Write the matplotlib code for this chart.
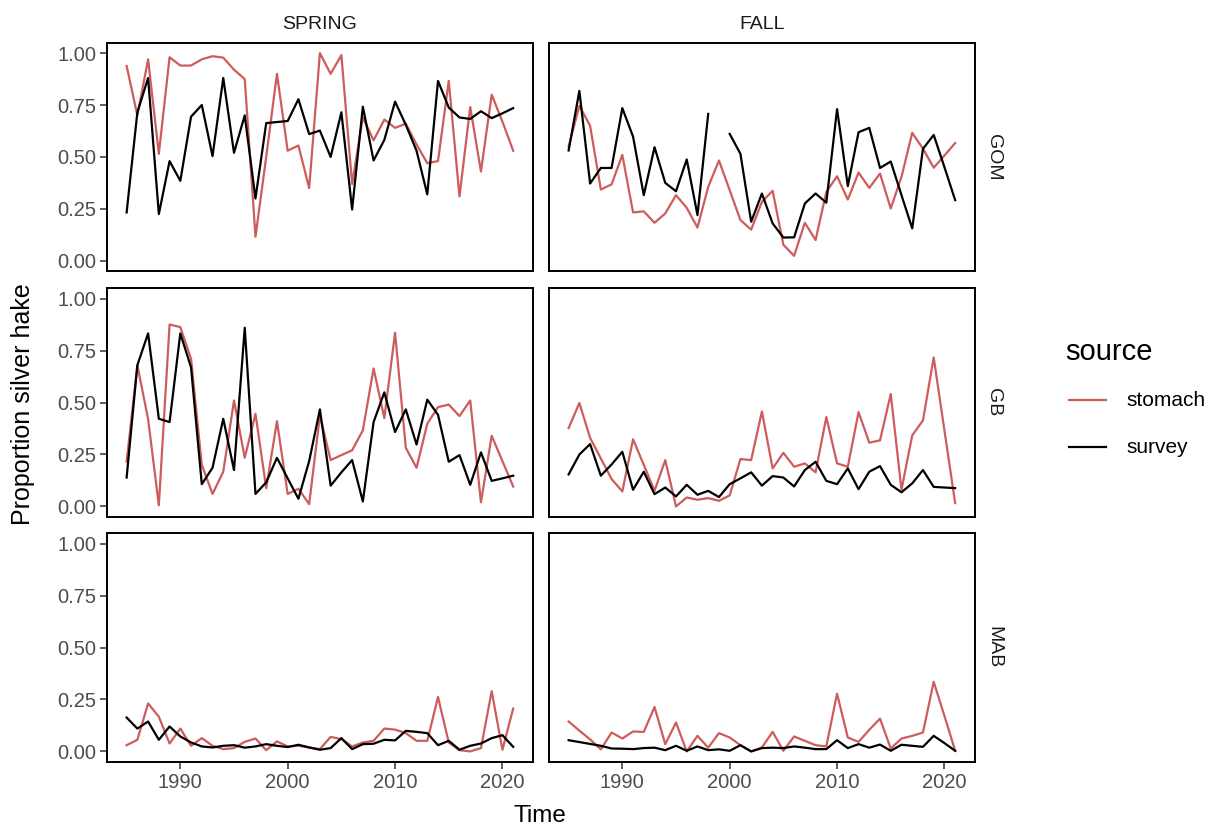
import matplotlib
matplotlib.use("Agg")
import matplotlib.pyplot as plt
import numpy as np
from matplotlib.lines import Line2D

plt.rcParams['font.family'] = ['Liberation Sans', 'DejaVu Sans']

years = np.arange(1985, 2022)
seasons = ["SPRING", "FALL"]
regions = ["GOM", "GB", "MAB"]
sources = ["stomach", "survey"]

# stomach / survey proportions by region and season
spring_gom_stomach = [0.938, 0.70, 0.97, 0.515, 0.98, 0.94, 0.94, 0.97, 0.985, 0.978, 0.92, 0.875, 0.116,
                      0.50, 0.90, 0.53, 0.555, 0.35, 1.00, 0.90, 0.99, 0.37, 0.69, 0.58, 0.68, 0.64, 0.66,
                      0.56, 0.47, 0.48, 0.866, 0.31, 0.74, 0.43, 0.80, 0.67, 0.53]
spring_gom_survey = [0.233, 0.715, 0.88, 0.225, 0.48, 0.385, 0.694, 0.75, 0.504, 0.88, 0.52, 0.70, 0.30,
                     0.663, 0.668, 0.673, 0.778, 0.61, 0.627, 0.50, 0.715, 0.247, 0.742, 0.483, 0.582,
                     0.766, 0.655, 0.53, 0.32, 0.866, 0.738, 0.69, 0.683, 0.72, 0.687, 0.71, 0.735]
fall_gom_stomach = [0.55, 0.746, 0.65, 0.343, 0.368, 0.51, 0.233, 0.238, 0.183, 0.228, 0.316, 0.255, 0.16,
                    0.356, 0.483, 0.34, 0.196, 0.15, 0.284, 0.337, 0.077, 0.024, 0.183, 0.10, 0.332, 0.407,
                    0.295, 0.425, 0.351, 0.42, 0.252, 0.404, 0.616, 0.54, 0.448, 0.507, 0.567]
fall_gom_survey = [0.531, 0.818, 0.372, 0.447, 0.447, 0.735, 0.598, 0.316, 0.547, 0.375, 0.335, 0.488, 0.22,
                   0.707, np.nan, 0.611, 0.515, 0.188, 0.324, 0.18, 0.112, 0.113, 0.276, 0.324, 0.28, 0.73,
                   0.36, 0.619, 0.64, 0.447, 0.478, 0.316, 0.156, 0.539, 0.606, 0.451, 0.292]
spring_gb_stomach = [0.215, 0.68, 0.42, 0.005, 0.876, 0.863, 0.71, 0.20, 0.06, 0.167, 0.51, 0.234, 0.446,
                     0.088, 0.41, 0.06, 0.085, 0.011, 0.438, 0.223, 0.247, 0.27, 0.366, 0.664, 0.425, 0.836,
                     0.282, 0.186, 0.398, 0.478, 0.49, 0.435, 0.51, 0.02, 0.34, 0.218, 0.096]
spring_gb_survey = [0.139, 0.68, 0.833, 0.422, 0.406, 0.833, 0.669, 0.107, 0.186, 0.422, 0.175, 0.86, 0.06,
                    0.116, 0.234, 0.135, 0.037, 0.218, 0.467, 0.10, 0.164, 0.223, 0.024, 0.406, 0.549, 0.358,
                    0.467, 0.298, 0.514, 0.441, 0.215, 0.247, 0.104, 0.26, 0.123, 0.135, 0.148]
fall_gb_stomach = [0.377, 0.498, 0.33, 0.231, 0.132, 0.072, 0.323, 0.20, 0.075, 0.223, 0.0, 0.043, 0.032,
                   0.04, 0.027, 0.053, 0.228, 0.223, 0.457, 0.183, 0.258, 0.191, 0.207, 0.164, 0.43, 0.207,
                   0.191, 0.454, 0.307, 0.318, 0.541, 0.08, 0.342, 0.414, 0.717, 0.366, 0.016]
fall_gb_survey = [0.154, 0.25, 0.30, 0.148, 0.202, 0.263, 0.08, 0.167, 0.059, 0.091, 0.048, 0.104, 0.056,
                  0.075, 0.045, 0.107, 0.135, 0.164, 0.10, 0.146, 0.139, 0.096, 0.175, 0.215, 0.123, 0.107,
                  0.183, 0.083, 0.167, 0.194, 0.104, 0.068, 0.111, 0.175, 0.094, 0.091, 0.088]
spring_mab_stomach = [0.03, 0.056, 0.231, 0.167, 0.038, 0.11, 0.027, 0.064, 0.027, 0.011, 0.016, 0.046, 0.062,
                      0.006, 0.048, 0.024, 0.027, 0.019, 0.011, 0.07, 0.059, 0.024, 0.043, 0.051, 0.11, 0.105,
                      0.088, 0.051, 0.051, 0.262, 0.043, 0.006, 0.0, 0.016, 0.29, 0.008, 0.206]
spring_mab_survey = [0.163, 0.11, 0.144, 0.056, 0.12, 0.072, 0.043, 0.024, 0.019, 0.027, 0.03, 0.018, 0.024,
                     0.035, 0.027, 0.021, 0.032, 0.019, 0.008, 0.016, 0.064, 0.011, 0.035, 0.037, 0.056, 0.053,
                     0.099, 0.094, 0.088, 0.03, 0.051, 0.008, 0.027, 0.038, 0.064, 0.078, 0.022]
fall_mab_stomach = [0.144, 0.10, 0.058, 0.01, 0.091, 0.062, 0.096, 0.094, 0.214, 0.035, 0.139, 0.0, 0.075,
                    0.018, 0.088, 0.067, 0.03, 0.0, 0.019, 0.094, 0.003, 0.072, 0.051, 0.03, 0.024, 0.278,
                    0.067, 0.046, 0.104, 0.158, 0.014, 0.062, 0.075, 0.091, 0.335, 0.171, 0.003]
fall_mab_survey = [0.054, 0.045, 0.036, 0.027, 0.014, 0.013, 0.011, 0.016, 0.018, 0.006, 0.027, 0.003, 0.024,
                   0.006, 0.01, 0.003, 0.03, 0.0, 0.016, 0.018, 0.016, 0.024, 0.018, 0.011, 0.011, 0.054,
                   0.016, 0.035, 0.018, 0.033, 0.003, 0.032, 0.027, 0.022, 0.075, 0.04, 0.003]

data = {
    ("GOM", "SPRING"): (spring_gom_stomach, spring_gom_survey),
    ("GOM", "FALL"): (fall_gom_stomach, fall_gom_survey),
    ("GB", "SPRING"): (spring_gb_stomach, spring_gb_survey),
    ("GB", "FALL"): (fall_gb_stomach, fall_gb_survey),
    ("MAB", "SPRING"): (spring_mab_stomach, spring_mab_survey),
    ("MAB", "FALL"): (fall_mab_stomach, fall_mab_survey),
}

COLORS = {"stomach": "#CD5C5C", "survey": "black"}
W, H = 1222, 830
fig = plt.figure(figsize=(W / 100, H / 100), dpi=100)

col_left = [107.3, 549.3]
col_width = 425.2
row_top = [42.7, 288.3, 533.3]
row_height = 228.5

for r, region in enumerate(regions):
    for c, season in enumerate(seasons):
        ax = fig.add_axes([col_left[c] / W, 1 - (row_top[r] + row_height) / H,
                           col_width / W, row_height / H])
        for src, vals in zip(sources, data[(region, season)]):
            ax.plot(years, vals, color=COLORS[src], lw=1.6)
        ax.set_xlim(1983.2, 2022.8)
        ax.set_ylim(-0.05, 1.05)
        ax.set_yticks([0, 0.25, 0.5, 0.75, 1.0])
        ax.set_xticks([1990, 2000, 2010, 2020])
        for s in ax.spines.values():
            s.set_linewidth(1.4)
            s.set_color("black")
        ax.tick_params(length=5, width=1.1, color="#333333", labelsize=14.5,
                       labelcolor="#4D4D4D", pad=3)
        if c == 0:
            ax.set_yticklabels(["0.00", "0.25", "0.50", "0.75", "1.00"])
        else:
            ax.tick_params(axis="y", left=False, labelleft=False)
        if r == 2:
            ax.set_xticklabels(["1990", "2000", "2010", "2020"])
        else:
            ax.tick_params(axis="x", bottom=False, labelbottom=False)
        if r == 0:
            ax.set_title(season, fontsize=14, color="#1A1A1A", pad=10)
        if c == 1:
            ax.text(1.045, 0.5, region, transform=ax.transAxes, rotation=-90,
                    ha="center", va="center", fontsize=14, color="#1A1A1A")

fig.text(540 / W, 1 - 816 / H, "Time", ha="center", va="center", fontsize=17.5)
fig.text(23 / W, 1 - 404 / H, "Proportion silver hake", ha="center", va="center",
         rotation=90, fontsize=18)

# legend drawn by hand so it sits where ggplot puts it
fig.text(1065 / W, 1 - 352 / H, "source", ha="left", va="center", fontsize=21)
for src, y in zip(sources, [400, 447]):
    fig.add_artist(Line2D([1069 / W, 1106 / W], [1 - y / H, 1 - y / H],
                          color=COLORS[src], lw=1.6, transform=fig.transFigure))
    fig.text(1126 / W, 1 - y / H, src, ha="left", va="center", fontsize=15)

fig.savefig("out.png", dpi=100)
